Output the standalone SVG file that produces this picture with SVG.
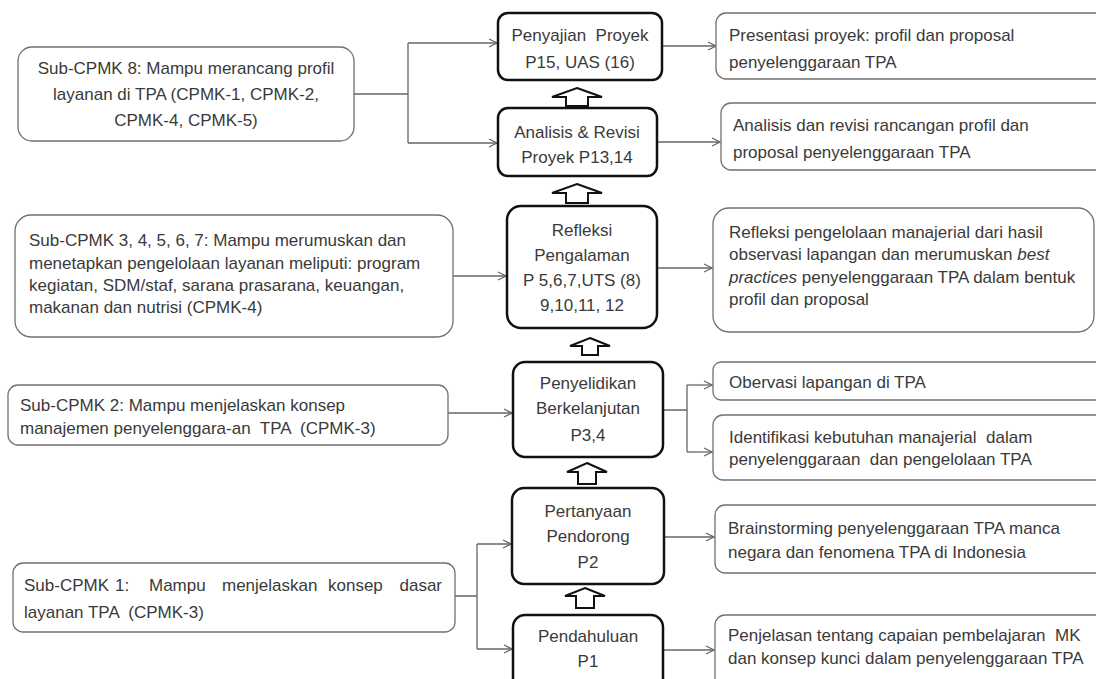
<svg xmlns="http://www.w3.org/2000/svg" width="1096" height="679" viewBox="0 0 1096 679">
<defs>
<style>
text{font-family:"Liberation Sans",Arial,sans-serif;font-size:17px;fill:#3a3a3a;white-space:pre}
.c{text-anchor:middle}
.thin{fill:#fff;stroke:#707070;stroke-width:1.3}
.thick{fill:#fff;stroke:#111;stroke-width:2.5}
.ln{fill:none;stroke:#666;stroke-width:1.3}
.ar{marker-end:url(#oa)}
.blk{fill:#fff;stroke:#111;stroke-width:2;stroke-linejoin:miter}
</style>
<marker id="oa" markerUnits="userSpaceOnUse" markerWidth="10" markerHeight="10" refX="9" refY="5" orient="auto">
<path d="M1,1 L9,5 L1,9" fill="none" stroke="#666" stroke-width="1.2"/>
</marker>
</defs>
<rect width="1096" height="679" fill="#fff"/>

<g id="connectors">
<path class="ln" d="M354,94 H408 M408,43 V143"/>
<path class="ln ar" d="M408,43 H497"/>
<path class="ln ar" d="M408,143 H497"/>
<path class="ln ar" d="M662,46 H716"/>
<path class="ln ar" d="M657,142 H720"/>
<path class="ln ar" d="M453,276 H506"/>
<path class="ln ar" d="M657,268 H712"/>
<path class="ln ar" d="M448,413 H512"/>
<path class="ln" d="M663,410 H687 M687,385 V452"/>
<path class="ln ar" d="M687,385 H712"/>
<path class="ln ar" d="M687,452 H712"/>
<path class="ln" d="M455,596 H477 M477,544 V649"/>
<path class="ln ar" d="M477,544 H511"/>
<path class="ln ar" d="M477,649 H512"/>
<path class="ln ar" d="M664,537 H714"/>
<path class="ln ar" d="M663,650 H714"/>
<path class="blk" d="M577,88 L602,97 L588,97 L588,106 L566,106 L566,97 L552,97 Z"/>
<path class="blk" d="M577,184 L602,193 L588,193 L588,203 L566,203 L566,193 L552,193 Z"/>
<path class="blk" d="M590,338 L610,346 L598,346 L598,355 L582,355 L582,346 L570,346 Z"/>
<path class="blk" d="M587,463 L607,472 L596,472 L596,484 L578,484 L578,472 L567,472 Z"/>
<path class="blk" d="M585,588 L605,596 L594,596 L594,608 L576,608 L576,596 L565,596 Z"/>
</g>

<g id="sub8">
<rect class="thin" x="18" y="47" width="336" height="94" rx="14"/>
<text class="c" x="186" y="74">Sub-CPMK 8: Mampu merancang profil</text>
<text class="c" x="186" y="100">layanan di TPA (CPMK-1, CPMK-2,</text>
<text class="c" x="186" y="126">CPMK-4, CPMK-5)</text>
</g>

<g id="sub3">
<rect class="thin" x="15" y="215" width="438" height="122" rx="16"/>
<text x="29" y="246">Sub-CPMK 3, 4, 5, 6, 7: Mampu merumuskan dan</text>
<text x="29" y="269">menetapkan pengelolaan layanan meliputi: program</text>
<text x="29" y="291">kegiatan, SDM/staf, sarana prasarana, keuangan,</text>
<text x="29" y="313">makanan dan nutrisi (CPMK-4)</text>
</g>

<g id="sub2">
<rect class="thin" x="8" y="385" width="440" height="60" rx="10"/>
<text x="20" y="411">Sub-CPMK 2: Mampu menjelaskan konsep</text>
<text x="20" y="434">manajemen penyelenggara-an  TPA  (CPMK-3)</text>
</g>

<g id="sub1">
<rect class="thin" x="13" y="563" width="442" height="69" rx="10"/>
<text x="24" y="591">Sub-CPMK</text>
<text x="115" y="591">1:</text>
<text x="149" y="591">Mampu</text>
<text x="222" y="591">menjelaskan</text>
<text x="328" y="591">konsep</text>
<text x="442" y="591" text-anchor="end">dasar</text>
<text x="24" y="618">layanan TPA  (CPMK-3)</text>
</g>

<g id="penyajian">
<rect class="thick" x="498" y="13" width="164" height="67" rx="10"/>
<text class="c" x="580" y="41">Penyajian  Proyek</text>
<text class="c" x="580" y="68">P15, UAS (16)</text>
</g>

<g id="analisis">
<rect class="thick" x="498" y="108" width="159" height="68" rx="10"/>
<text class="c" x="577" y="138">Analisis &amp; Revisi</text>
<text class="c" x="577" y="163">Proyek P13,14</text>
</g>

<g id="refleksi">
<rect class="thick" x="507" y="206" width="150" height="122" rx="14"/>
<text class="c" x="582" y="236">Refleksi</text>
<text class="c" x="582" y="261">Pengalaman</text>
<text class="c" x="582" y="286">P 5,6,7,UTS (8)</text>
<text class="c" x="582" y="311">9,10,11, 12</text>
</g>

<g id="penyelidikan">
<rect class="thick" x="513" y="362" width="150" height="95" rx="12"/>
<text class="c" x="588" y="389">Penyelidikan</text>
<text class="c" x="588" y="414">Berkelanjutan</text>
<text class="c" x="588" y="441">P3,4</text>
</g>

<g id="pertanyaan">
<rect class="thick" x="512" y="488" width="152" height="96" rx="12"/>
<text class="c" x="588" y="517">Pertanyaan</text>
<text class="c" x="588" y="542">Pendorong</text>
<text class="c" x="588" y="568">P2</text>
</g>

<g id="pendahuluan">
<rect class="thick" x="513" y="615" width="150" height="80" rx="12"/>
<text class="c" x="588" y="642">Pendahuluan</text>
<text class="c" x="588" y="667">P1</text>
</g>

<g id="presentasi">
<rect class="thin" x="716" y="13" width="400" height="66" rx="10"/>
<text x="729" y="41">Presentasi proyek: profil dan proposal</text>
<text x="729" y="68">penyelenggaraan TPA</text>
</g>

<g id="analisis-desc">
<rect class="thin" x="721" y="103" width="400" height="67" rx="10"/>
<text x="733" y="131">Analisis dan revisi rancangan profil dan</text>
<text x="733" y="158">proposal penyelenggaraan TPA</text>
</g>

<g id="refleksi-desc">
<rect class="thin" x="713" y="208" width="381" height="124" rx="16"/>
<text x="729" y="238">Refleksi pengelolaan manajerial dari hasil</text>
<text x="729" y="260">observasi lapangan dan merumuskan <tspan font-style="italic">best</tspan></text>
<text x="729" y="283"><tspan font-style="italic">practices</tspan> penyelenggaraan TPA dalam bentuk</text>
<text x="729" y="305">profil dan proposal</text>
</g>

<g id="obervasi">
<rect class="thin" x="713" y="362" width="400" height="38" rx="8"/>
<text x="729" y="388">Obervasi lapangan di TPA</text>
</g>

<g id="identifikasi">
<rect class="thin" x="713" y="415" width="400" height="65" rx="10"/>
<text x="729" y="443">Identifikasi kebutuhan manajerial  dalam</text>
<text x="729" y="465">penyelenggaraan  dan pengelolaan TPA</text>
</g>

<g id="brainstorming">
<rect class="thin" x="715" y="505" width="400" height="68" rx="10"/>
<text x="728" y="534">Brainstorming penyelenggaraan TPA manca</text>
<text x="728" y="558">negara dan fenomena TPA di Indonesia</text>
</g>

<g id="penjelasan">
<rect class="thin" x="715" y="615" width="400" height="80" rx="10"/>
<text x="728" y="641">Penjelasan tentang capaian pembelajaran  MK</text>
<text x="728" y="664">dan konsep kunci dalam penyelenggaraan TPA</text>
</g>
</svg>
